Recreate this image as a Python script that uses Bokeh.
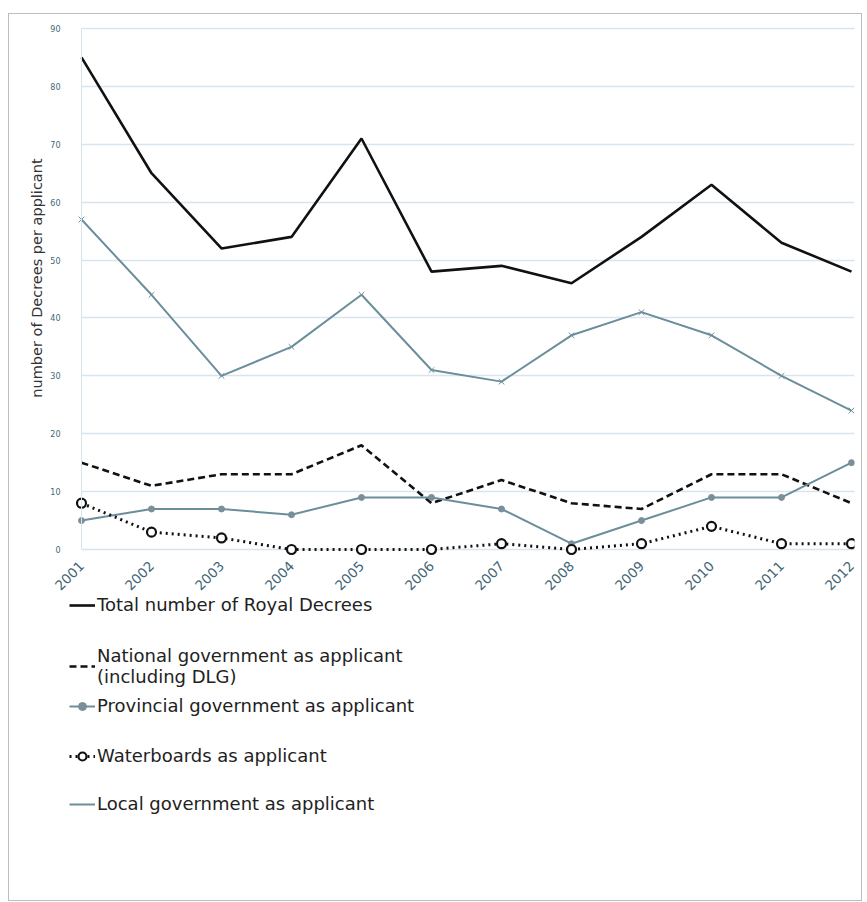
from math import pi
from bokeh.plotting import figure
from bokeh.models import Range1d, FixedTicker, Legend, LegendItem, Label
from bokeh.embed import file_html
from bokeh.resources import INLINE

# ---- data ----
years = list(range(2001, 2013))
total = [85, 65, 52, 54, 71, 48, 49, 46, 54, 63, 53, 48]
national = [15, 11, 13, 13, 18, 8, 12, 8, 7, 13, 13, 8]
provincial = [5, 7, 7, 6, 9, 9, 7, 1, 5, 9, 9, 15]
waterboards = [8, 3, 2, 0, 0, 0, 1, 0, 1, 4, 1, 1]
local = [57, 44, 30, 35, 44, 31, 29, 37, 41, 37, 30, 24]
y_ticks = [0, 10, 20, 30, 40, 50, 60, 70, 80, 90]
x_tick_labels = [str(y) for y in years]
legend_labels = [
    "Total number of Royal Decrees",
    "National government as applicant\n(including DLG)",
    "Provincial government as applicant",
    "Waterboards as applicant",
    "Local government as applicant",
]
y_label = "number of Decrees per applicant"

TEAL = "#6b8e9b"
GRID = "#d8e5ee"
TICK = "#3f6676"

# frame spans (almost) the whole bordered box; axes are drawn at fixed locations
FRAME_LEFT, FRAME_TOP, FRAME_W, FRAME_H = 20, 17, 833, 841
PX_PER_YEAR = 70
PX_PER_UNIT = 5.789
Y_TOP = 90 + 10 / PX_PER_UNIT
p = figure(frame_width=FRAME_W, frame_height=FRAME_H,
           x_range=Range1d(years[0] - 60 / PX_PER_YEAR,
                           years[0] - 60 / PX_PER_YEAR + FRAME_W / PX_PER_YEAR),
           y_range=Range1d(Y_TOP - FRAME_H / PX_PER_UNIT, Y_TOP),
           output_backend="svg", toolbar_location=None,
           min_border_left=FRAME_LEFT - 8, min_border_right=7,
           min_border_top=4, min_border_bottom=41,
           margin=(13, 0, 0, 8))
p.styles = {"border": "1px solid #b9bec4"}
p.outline_line_color = None
p.background_fill_color = "white"
p.border_fill_color = "white"

p.xgrid.grid_line_color = None
p.ygrid.grid_line_color = GRID
p.ygrid.grid_line_width = 1.5
p.ygrid.ticker = FixedTicker(ticks=y_ticks)
p.ygrid.cross_bounds = (years[0], years[-1] + 0.04)

p.yaxis.ticker = FixedTicker(ticks=y_ticks)
p.yaxis.fixed_location = years[0]
p.yaxis.major_tick_line_color = None
p.yaxis.minor_tick_line_color = None
p.yaxis.axis_line_color = GRID
p.yaxis.bounds = (y_ticks[0], y_ticks[-1])
p.yaxis.major_label_text_font = "DejaVu Sans"
p.yaxis.major_label_text_font_size = "8px"
p.yaxis.major_label_text_color = TICK
p.yaxis.major_label_standoff = 15

p.xaxis.ticker = FixedTicker(ticks=years)
p.xaxis.fixed_location = 0
p.xaxis.major_label_overrides = {y: s for y, s in zip(years, x_tick_labels)}
p.xaxis.major_tick_line_color = None
p.xaxis.minor_tick_line_color = None
p.xaxis.axis_line_color = None
p.xaxis.major_label_orientation = pi / 4
p.xaxis.major_label_text_font = "DejaVu Sans"
p.xaxis.major_label_text_font_size = "13.5px"
p.xaxis.major_label_text_color = TICK
p.xaxis.major_label_standoff = 8

# y-axis title (kept beside the 0-90 part of the axis)
p.add_layout(Label(x=years[0], y=(y_ticks[0] + y_ticks[-1]) / 2, x_offset=-45, y_offset=11,
                   text=y_label, angle=pi / 2, text_align="center",
                   text_baseline="middle", text_font="DejaVu Sans",
                   text_font_size="14.5px", text_color="#333333"))

# ---- series ----
r_total = p.line(years, total, line_color="#111111", line_width=2.6)

r_local = p.line(years, local, line_color=TEAL, line_width=2)
r_local_m = p.scatter(years, local, marker="x", size=8, line_color=TEAL, line_width=1)

r_nat = p.line(years, national, line_color="#111111", line_width=2.6, line_dash="7 4")

r_prov = p.line(years, provincial, line_color=TEAL, line_width=2)
r_prov_m = p.scatter(years, provincial, marker="circle", size=6, fill_color="#7a8f98",
                     line_color="#7a8f98")

r_wat = p.line(years, waterboards, line_color="#111111", line_width=3, line_dash="2 4")
r_wat_m = p.scatter(years, waterboards, marker="circle", size=9, fill_color="white",
                    line_color="#111111", line_width=2.2)

# ---- legend: one entry per Legend, under the x axis ----
FRAME_BOTTOM = FRAME_TOP + FRAME_H
entries = [
    (legend_labels[0], [r_total], 604, 20),
    (legend_labels[1], [r_nat], 666, 40),
    (legend_labels[2], [r_prov, r_prov_m], 705, 20),
    (legend_labels[3], [r_wat, r_wat_m], 755, 20),
    (legend_labels[4], [r_local], 803, 20),
]
for label, rends, cy, h in entries:
    leg = Legend(items=[LegendItem(label=label, renderers=rends)],
                 location=(68 - FRAME_LEFT, FRAME_BOTTOM - (cy + h / 2)),
                 border_line_color=None, background_fill_alpha=0,
                 padding=0, margin=0, spacing=0,
                 glyph_width=26, glyph_height=20, label_height=20,
                 label_standoff=2,
                 label_text_font="DejaVu Sans", label_text_font_size="18px",
                 label_text_color="#222222", label_text_line_height=1.1)
    p.add_layout(leg)

open("out.html", "w").write(file_html(p, INLINE))
